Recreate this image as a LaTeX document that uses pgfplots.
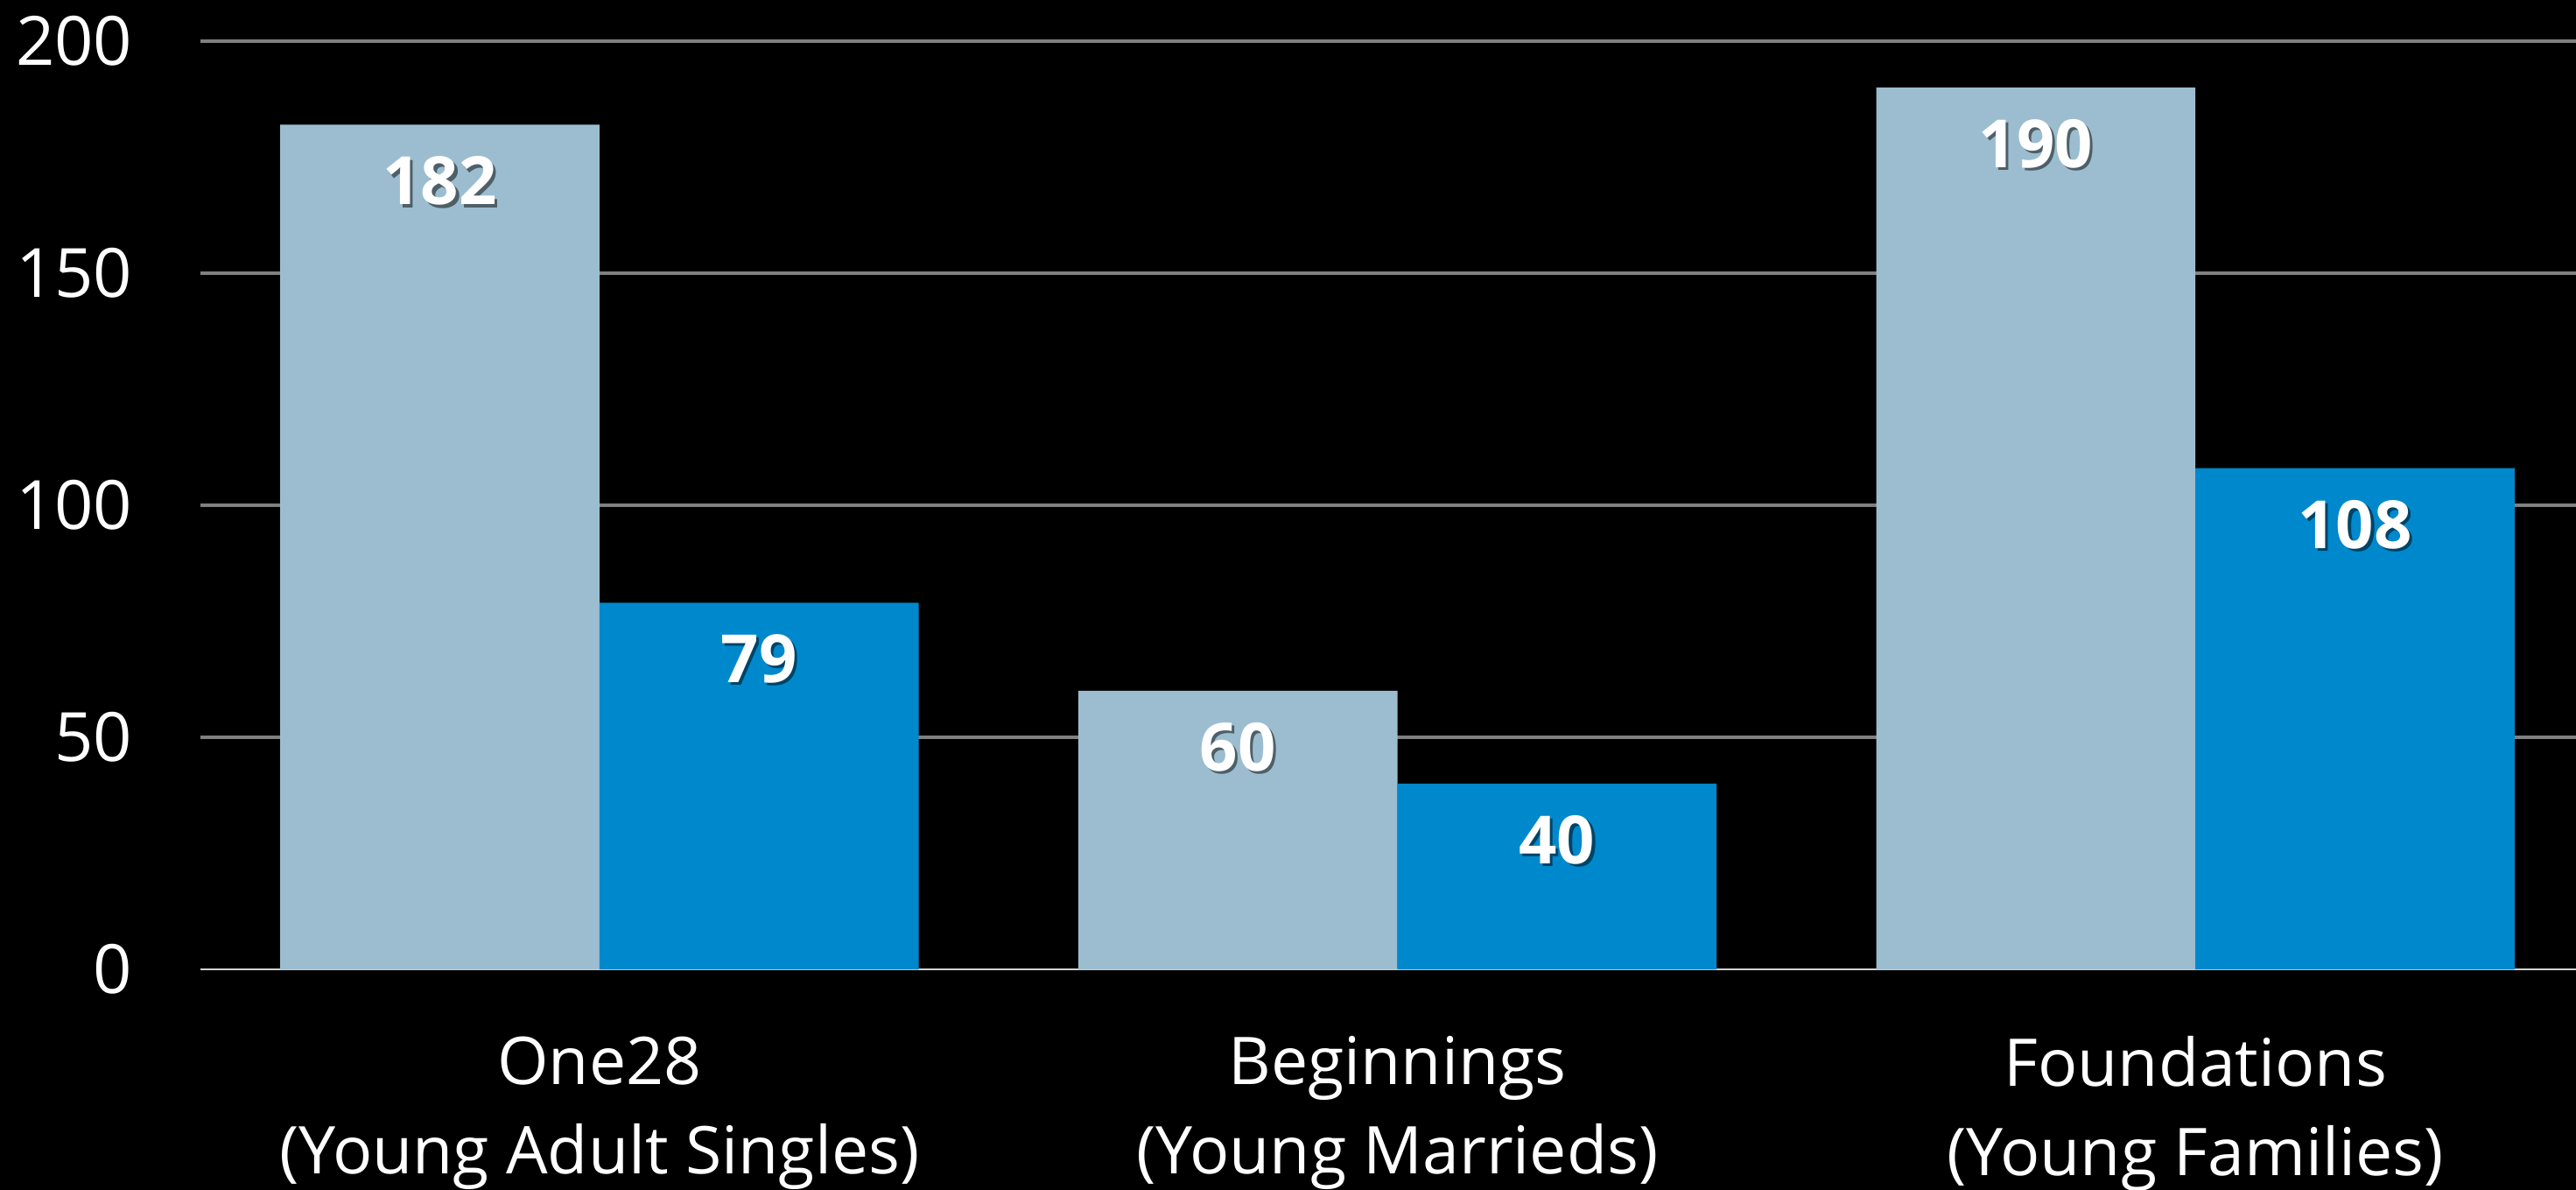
\documentclass[border=0pt]{standalone}
\usepackage{pgfplots}
\pgfplotsset{compat=1.18}
\usepackage{fontspec}
\setmainfont{Open Sans}
\definecolor{barlight}{HTML}{9CBDD0}
\definecolor{bardark}{HTML}{0088CC}
\definecolor{gridgray}{HTML}{808080}
\newcommand\shtext[2]{\makebox[0pt][l]{\kern0.8pt\raisebox{-0.8pt}{\textcolor{#1}{#2}}}#2}
\begin{document}
\begin{tikzpicture}
\path[use as bounding box] (-57.25pt,-63pt) rectangle (678.5pt,276.75pt);
\fill[black] (-57.25pt,-63pt) rectangle (678.5pt,276.75pt);
\begin{axis}[
  at={(0,0)}, anchor=south west,
  scale only axis, width=678.5pt, height=265pt,
  xmin=-0.5, xmax=2.477, ymin=0, ymax=200,
  ybar, bar width=0.4,
  axis line style={draw=none},
  tick style={draw=none},
  major tick length=0pt,
  ytick={50,100,150,200},
  extra y ticks={0},
  extra y tick style={grid style={color=white!82!black, line width=0.6pt}},
  ymajorgrids,
  grid style={color=gridgray, line width=1.1pt},
  xtick={0,1,2},
  xticklabels={{One28\vphantom{(}\\(Young Adult Singles)},{Beginnings\vphantom{(}\\(Young Marrieds)},{Foundations\vphantom{(}\\(Young Families)}},
  xticklabel style={align=center, anchor=north, inner sep=0pt, yshift=-18.95pt, text=white, font=\fontsize{18.8}{25.5}\selectfont},
  yticklabel style={anchor=east, inner sep=0pt, xshift=-19.25pt, text=white, font=\fontsize{19.4}{23}\selectfont},
  /pgf/number format/assume math mode=true,
  every node near coord/.append style={anchor=center, yshift=-16.5pt, text=white, inner sep=0pt, font=\fontsize{19}{22}\selectfont\bfseries},
]
\addplot[fill=barlight, draw=none, bar shift=-0.2,
  nodes near coords={\shtext{barlight!50!black}{\pgfmathprintnumber{\pgfplotspointmeta}}}]
  coordinates {(0,182) (1,60) (2,190)};
\addplot[fill=bardark, draw=none, bar shift=0.2,
  nodes near coords={\shtext{bardark!50!black}{\pgfmathprintnumber{\pgfplotspointmeta}}}]
  coordinates {(0,79) (1,40) (2,108)};
\end{axis}
\end{tikzpicture}
\end{document}
